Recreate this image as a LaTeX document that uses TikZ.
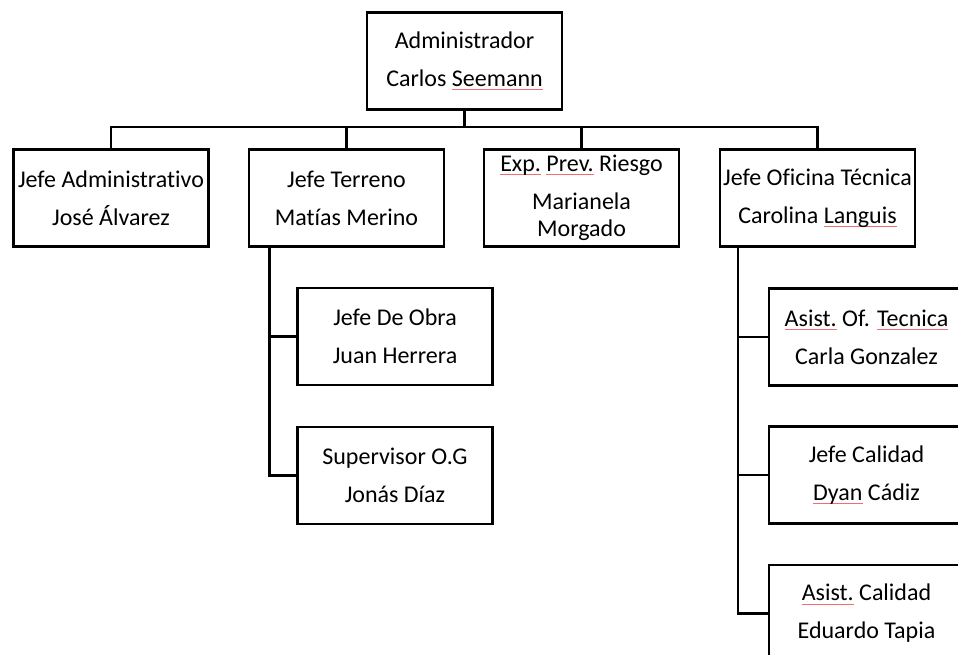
\documentclass[tikz,border=0pt]{standalone}
\usepackage{fontspec}
\setmainfont{Carlito}[Ligatures={NoCommon}]
\definecolor{spellred}{RGB}{240,110,110}
\newsavebox\rulbox
\newcommand\redul[1]{\sbox\rulbox{#1}\rlap{\textcolor{spellred}{\rule[-3.5pt]{\wd\rulbox}{0.8pt}}}\usebox\rulbox}
\tikzset{
  orgbox/.style={draw=black, line width=2.5pt, fill=white, minimum width=195pt, minimum height=97pt,
    inner sep=0pt, align=center, font=\fontsize{24}{27}\selectfont},
  link/.style={draw=black, line width=2.5pt}
}
\begin{document}
\begin{tikzpicture}[x=1pt,y=-1pt]
\useasboundingbox (0,0) rectangle (958,655);
\clip (0,0) rectangle (958,655);
\fill[white] (0,0) rectangle (958,655);
% top
\node[orgbox] (top) at (464.5,61) {Administrador\\[11pt]Carlos \redul{Seemann}};
% level 2
\node[orgbox] (j1) at (111,198) {Jefe Administrativo\\[11pt]José Álvarez};
\node[orgbox] (j2) at (346.5,198) {Jefe Terreno\\[11pt]Matías Merino};
\node[orgbox] (j3) at (581.5,198) {\redul{Exp.} \redul{Prev.} Riesgo\\[11pt]Marianela\\Morgado};
\node[orgbox] (j4) at (817.5,198) {Jefe Oficina Técnica\\[11pt]Carolina \redul{Languis}};
% under Jefe Terreno
\node[orgbox] (s1) at (395,336.5) {Jefe De Obra\\[11pt]Juan Herrera};
\node[orgbox] (s2) at (395,475.5) {Supervisor O.G\\[11pt]Jonás Díaz};
% under Jefe Oficina Tecnica
\node[orgbox] (o1) at (866.5,337) {\redul{Asist.} Of. \redul{Tecnica}\\[11pt]Carla Gonzalez};
\node[orgbox] (o2) at (866.5,475) {Jefe Calidad\\[11pt]\redul{Dyan} Cádiz};
\node[orgbox] (o3) at (866.5,613.5) {\redul{Asist.} Calidad\\[11pt]Eduardo Tapia};
% connectors
\coordinate (bus) at (464.5,128);
\draw[link] (top.south) -- (bus);
\draw[link] (j1.north) -- ++(0,-21) -| (j4.north);
\draw[link] (j2.north) -- (j2.north |- bus);
\draw[link] (j3.north) -- (j3.north |- bus);
\coordinate (tv) at ([xshift=21.5pt]j2.south west);
\coordinate (ov) at ([xshift=19pt]j4.south west);
\draw[link] (tv) |- (s1.west);
\draw[link] (tv) |- (s2.west);
\draw[link] (ov) |- (o1.west);
\draw[link] (ov) |- (o2.west);
\draw[link] (ov) |- (o3.west);
\end{tikzpicture}
\end{document}
